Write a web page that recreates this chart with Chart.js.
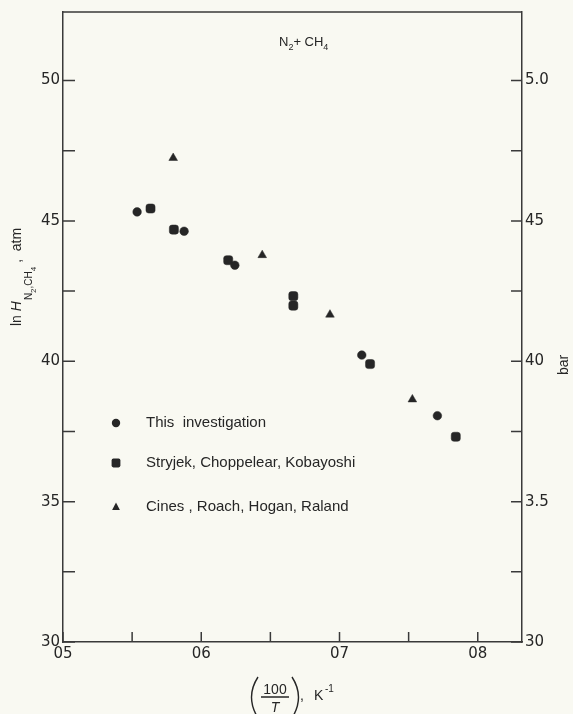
<!DOCTYPE html>
<html>
<head>
<meta charset="utf-8">
<script src="https://cdn.jsdelivr.net/npm/chart.js@4/dist/chart.umd.min.js"></script>
<style>
  html, body { margin: 0; padding: 0; background: #f9f9f2; }
  #wrap { width: 573px; height: 714px; position: relative; }
</style>
</head>
<body>
<div id="wrap"><canvas id="c" width="573" height="714"></canvas></div>
<script>
// Henry's constant of N2 in CH4: ln H versus 100/T
const seriesNames = ['This  investigation', 'Stryjek, Choppelear, Kobayoshi', 'Cines , Roach, Hogan, Raland'];

const thisInvX = [0.5536, 0.5876, 0.6243, 0.7161, 0.7708];
const thisInvY = [4.532, 4.463, 4.342, 4.022, 3.806];

const stryjekX = [0.5633, 0.5802, 0.6195, 0.6666, 0.6666, 0.7221, 0.7841];
const stryjekY = [4.544, 4.469, 4.360, 4.232, 4.198, 3.990, 3.731];

const cinesX = [0.5797, 0.6441, 0.6931, 0.7527];
const cinesY = [4.724, 4.378, 4.166, 3.864];

const xTickValues = [0.5, 0.55, 0.6, 0.65, 0.7, 0.75, 0.8];
const xTickLabels = ['05', '', '06', '', '07', '', '08'];
const yTickValues = [3.0, 3.25, 3.5, 3.75, 4.0, 4.25, 4.5, 4.75, 5.0];
const yLeftLabels = ['30', '', '35', '', '40', '', '45', '', '50'];
const yRightLabels = ['30', '', '3.5', '', '40', '', '45', '', '5.0'];

const INK = '#262626';
const AXIS = '#3a3a3a';
const FONT = '"Liberation Sans", Arial, sans-serif';
const TICK_FONT = '"DejaVu Sans", sans-serif';

const toPoints = (xs, ys) => xs.map((x, i) => ({ x: x, y: ys[i] }));

function tickScale(values, labels, extra) {
  return Object.assign({
    type: 'linear',
    afterBuildTicks: s => { s.ticks = values.map(v => ({ value: v })); },
    grid: { display: true, drawOnChartArea: false, drawTicks: false },
    border: { display: true, color: AXIS, width: 1.5 },
    ticks: {
      autoSkip: false, maxRotation: 0, color: INK,
      font: { family: TICK_FONT, size: 15 },
      callback: (v, i) => labels[i]
    }
  }, extra);
}

// inward tick marks and the top frame line
const frameTicks = {
  id: 'frameTicks',
  afterDraw(chart) {
    const ctx = chart.ctx, a = chart.chartArea;
    ctx.save();
    ctx.strokeStyle = AXIS;
    ctx.lineWidth = 1.5;
    ctx.beginPath();
    ctx.moveTo(a.left, a.top); ctx.lineTo(a.right, a.top);
    const sx = chart.scales.x, sy = chart.scales.y, sr = chart.scales.y2;
    sx.ticks.forEach(t => {
      const px = sx.getPixelForValue(t.value);
      ctx.moveTo(px, a.bottom); ctx.lineTo(px, a.bottom - 10);
    });
    sy.ticks.forEach(t => {
      const py = sy.getPixelForValue(t.value);
      ctx.moveTo(a.left, py); ctx.lineTo(a.left + 12, py);
    });
    sr.ticks.forEach(t => {
      const py = sr.getPixelForValue(t.value);
      ctx.moveTo(a.right, py); ctx.lineTo(a.right - 11, py);
    });
    ctx.stroke();
    ctx.restore();
  }
};

function drawMarker(ctx, style, x, y) {
  ctx.beginPath();
  if (style === 'circle') {
    ctx.arc(x, y, 4.2, 0, Math.PI * 2);
  } else if (style === 'rectRounded') {
    const h = 4.4, r = 1.8;
    ctx.moveTo(x - h + r, y - h);
    ctx.arcTo(x + h, y - h, x + h, y + h, r);
    ctx.arcTo(x + h, y + h, x - h, y + h, r);
    ctx.arcTo(x - h, y + h, x - h, y - h, r);
    ctx.arcTo(x - h, y - h, x + h, y - h, r);
  } else {
    ctx.moveTo(x, y - 4.6);
    ctx.lineTo(x + 3.9, y + 3.0);
    ctx.lineTo(x - 3.9, y + 3.0);
  }
  ctx.closePath();
  ctx.fill();
}

// titles, axis captions and the key
const annotations = {
  id: 'annotations',
  afterDraw(chart) {
    const ctx = chart.ctx, a = chart.chartArea;
    ctx.save();
    ctx.fillStyle = INK;
    ctx.textBaseline = 'alphabetic';

    // system label at the top
    let x = 279, y = 46;
    const put = (txt, size, dy, italic) => {
      ctx.font = (italic ? 'italic ' : '') + size + 'px ' + FONT;
      ctx.fillText(txt, x, y + dy);
      x += ctx.measureText(txt).width;
    };
    ctx.textAlign = 'left';
    put('N', 13, 0); put('2', 9, 4); put('+ CH', 13, 0); put('4', 9, 4);

    // left axis caption, rotated
    ctx.save();
    ctx.translate(21, 326);
    ctx.rotate(-Math.PI / 2);
    x = 0; y = 0;
    put('ln ', 14, 0); put('H', 14, 0, true);
    x += 1;
    put('N', 10, 11); put('2', 8, 15); put(',CH', 10, 11); put('4', 8, 15);
    put(' ,  atm', 14, 0);
    ctx.restore();

    // right axis caption
    ctx.save();
    ctx.translate(568, 375);
    ctx.rotate(-Math.PI / 2);
    ctx.font = '14px ' + FONT;
    ctx.fillText('bar', 0, 0);
    ctx.restore();

    // bottom caption: (100/T), K^-1
    ctx.strokeStyle = INK;
    ctx.lineWidth = 1.4;
    ctx.beginPath();
    ctx.moveTo(258, 677); ctx.quadraticCurveTo(245, 697, 258, 718);
    ctx.moveTo(292, 677); ctx.quadraticCurveTo(305, 697, 292, 718);
    ctx.moveTo(261, 697); ctx.lineTo(289, 697);
    ctx.stroke();
    ctx.textAlign = 'center';
    ctx.font = '14px ' + FONT;
    ctx.fillText('100', 275, 694);
    ctx.font = 'italic 14px ' + FONT;
    ctx.fillText('T', 275, 712);
    ctx.textAlign = 'left';
    ctx.font = '14px ' + FONT;
    ctx.fillText(',', 300, 700);
    ctx.fillText('K', 314, 700);
    ctx.font = '10px ' + FONT;
    ctx.fillText('-1', 325, 692);

    // key
    const rows = [423, 463, 507];
    chart.data.datasets.forEach((ds, i) => {
      drawMarker(ctx, ds.pointStyle, a.left + 53, rows[i]);
      ctx.font = '15px ' + FONT;
      ctx.textBaseline = 'middle';
      ctx.fillText(ds.label, a.left + 83, rows[i]);
      ctx.textBaseline = 'alphabetic';
    });
    ctx.restore();
  }
};

// marker shapes for the three sources
const markerStyle = (style, radius) => ({
  showLine: false,
  pointStyle: style,
  pointRadius: radius,
  pointHoverRadius: radius,
  pointBackgroundColor: INK,
  pointBorderColor: INK,
  pointBorderWidth: 0.5,
  yAxisID: 'y'
});

new Chart(document.getElementById('c'), {
  type: 'scatter',
  data: {
    datasets: [
      Object.assign({ label: seriesNames[0], data: toPoints(thisInvX, thisInvY) }, markerStyle('circle', 4.3)),
      Object.assign({ label: seriesNames[1], data: toPoints(stryjekX, stryjekY) }, markerStyle('rectRounded', 5.3)),
      Object.assign({ label: seriesNames[2], data: toPoints(cinesX, cinesY) }, markerStyle('triangle', 5.0))
    ]
  },
  options: {
    responsive: false,
    animation: false,
    devicePixelRatio: 1,
    layout: { padding: { top: 12, left: 0, right: 0, bottom: 0 } },
    plugins: { legend: { display: false }, tooltip: { enabled: false } },
    scales: {
      x: tickScale(xTickValues, xTickLabels, {
        min: 0.5, max: 0.832, position: 'bottom',
        afterFit: s => { s.height = 72; }
      }),
      y: tickScale(yTickValues, yLeftLabels, {
        min: 3.0, max: 5.244, position: 'left',
        afterFit: s => { s.width = 63; }
      }),
      y2: tickScale(yTickValues, yRightLabels, {
        min: 3.0, max: 5.244, position: 'right',
        afterFit: s => { s.width = 51; }
      })
    }
  },
  plugins: [frameTicks, annotations]
});
</script>
</body>
</html>
